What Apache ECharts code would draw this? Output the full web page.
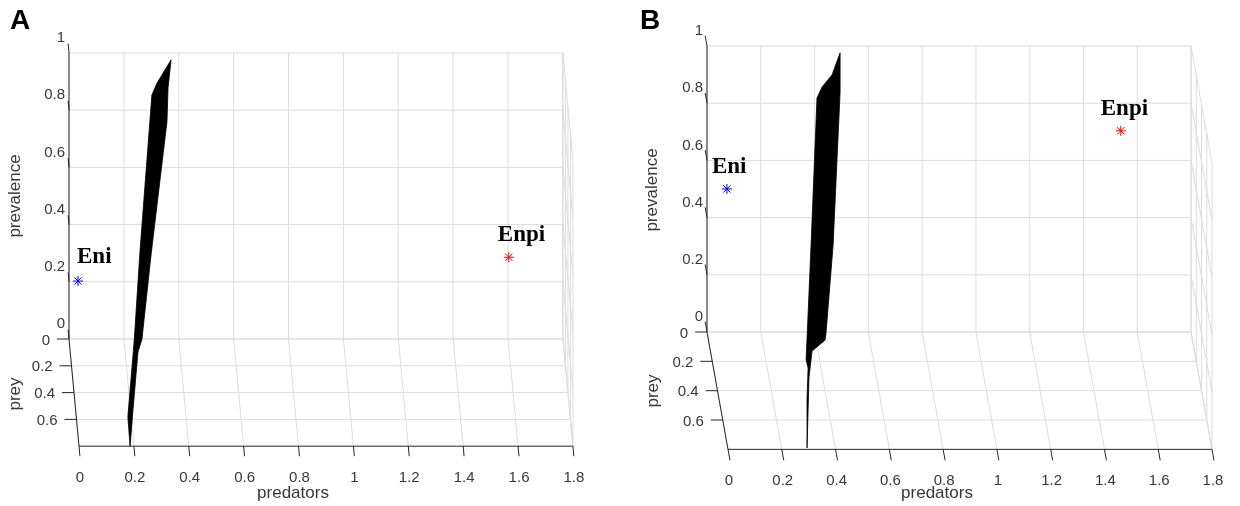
<!DOCTYPE html>
<html>
<head>
<meta charset="utf-8">
<script src="https://cdn.jsdelivr.net/npm/echarts@6/dist/echarts.min.js"></script>
<style>
  html, body { margin: 0; padding: 0; background: #fff; }
  #chart { width: 1240px; height: 506px; }
</style>
</head>
<body>
<div id="chart"></div>
<script>
// tick values / labels, same for both panels
const predTicks = [0, 0.2, 0.4, 0.6, 0.8, 1, 1.2, 1.4, 1.6, 1.8];
const predLabels = ['0', '0.2', '0.4', '0.6', '0.8', '1', '1.2', '1.4', '1.6', '1.8'];
const preyTicks = [0, 0.2, 0.4, 0.6];
const preyLabels = ['0', '0.2', '0.4', '0.6'];
const prevTicks = [0, 0.2, 0.4, 0.6, 0.8, 1];
const prevLabels = ['0', '0.2', '0.4', '0.6', '0.8', '1'];
const predMax = 1.8, preyMax = 0.8, prevMax = 1;

// outline of the black surface, [predators, prey, prevalence]
const surfaceA = [
  [0.372, 0, 0.976], [0.361, 0, 0.878], [0.357, 0, 0.759], [0.299, 0, 0.294],
  [0.266, 0, 0], [0.247, 0.097, 0], [0.209, 0.53, 0], [0.186, 0.8, 0],
  [0.188, 0.58, 0], [0.220, 0.21, 0], [0.238, 0, 0], [0.259, 0, 0.311],
  [0.302, 0, 0.853], [0.321, 0, 0.895]
];
const surfaceB = [
  [0.495, 0, 0.976], [0.495, 0, 0.839], [0.469, 0, 0.304], [0.443, 0, 0],
  [0.434, 0.055, 0], [0.378, 0.13, 0], [0.349, 0.31, 0], [0.295, 0.79, 0],
  [0.327, 0.46, 0], [0.352, 0.245, 0], [0.350, 0.19, 0], [0.373, 0, 0],
  [0.387, 0, 0.304], [0.409, 0, 0.818], [0.428, 0, 0.857], [0.465, 0, 0.899]
];

// equilibrium points, [predators, prey, prevalence]
const eqNames = ['Eni', 'Enpi'];
const eqA = [[0, 0.72, 0.54], [1.58, 0.5, 0.52]];
const eqB = [[0, 0.76, 0.89], [1.49, 0.5, 0.96]];
const eqColors = ['#0000ff', '#ff0000'];

// view of each panel: position of back wall + shear for the prey direction
const views = [
  { left: 69, top: 53, sx: 274.4, sy: 286, kx: 0.0456, ky: 0.4685,
    eqOff: [[-1, -24], [-11, -22]], surface: surfaceA, eq: eqA },
  { left: 707, top: 46, sx: 268.9, sy: 286, kx: 0.0976, ky: 0.5129,
    eqOff: [[-15, -22], [-20, -22]], surface: surfaceB, eq: eqB }
];

const GRID = '#dcdcdc';
const AXIS = '#262626';
const TXT = '#383838';
const tickFont = '15px "Liberation Sans", Arial, sans-serif';
const titleFont = '17px "Liberation Sans", Arial, sans-serif';

function projector(view, api) {
  return (pred, prey, prev) => api.coord([pred + prey * view.kx, prev - prey * view.ky]);
}

function frameRender(view) {
  return function (params, api) {
    const P = projector(view, api);
    const kids = [];
    const line = (a, b, color) => kids.push({
      type: 'line',
      shape: { x1: a[0], y1: a[1], x2: b[0], y2: b[1] },
      style: { stroke: color, lineWidth: 1 }
    });
    const label = (pt, str, align, dx, dy) => kids.push({
      type: 'text',
      style: { x: pt[0] + dx, y: pt[1] + dy, text: str, align: align, verticalAlign: 'middle',
        fill: TXT, font: tickFont }
    });

    // back wall
    predTicks.forEach(t => line(P(t, 0, 0), P(t, 0, prevMax), GRID));
    prevTicks.forEach(t => line(P(0, 0, t), P(predMax, 0, t), GRID));
    // floor
    predTicks.forEach(t => line(P(t, 0, 0), P(t, preyMax, 0), GRID));
    preyTicks.forEach(t => line(P(0, t, 0), P(predMax, t, 0), GRID));
    // side wall
    preyTicks.concat([preyMax]).forEach(t => line(P(predMax, t, 0), P(predMax, t, prevMax), GRID));
    prevTicks.forEach(t => line(P(predMax, 0, t), P(predMax, preyMax, t), GRID));

    // axis lines
    line(P(0, 0, 0), P(0, 0, prevMax), AXIS);
    line(P(0, 0, 0), P(0, preyMax, 0), AXIS);
    line(P(0, preyMax, 0), P(predMax, preyMax, 0), AXIS);

    // ticks + labels
    prevTicks.forEach((t, i) => {
      line(P(0, 0, t), P(0, -0.07, t), AXIS);
      label(P(0, 0, t), prevLabels[i], 'right', -4, -15);
    });
    preyTicks.forEach((t, i) => {
      line(P(0, t, 0), P(-0.044, t, 0), AXIS);
      label(P(0, t, 0), preyLabels[i], 'right', -19, 1.5);
    });
    predTicks.forEach((t, i) => {
      line(P(t, preyMax, 0), P(t, preyMax + 0.075, 0), AXIS);
      label(P(t, preyMax, 0), predLabels[i], 'center', 1, 32);
    });
    return { type: 'group', children: kids };
  };
}

function surfaceRender(view) {
  return function (params, api) {
    if (params.dataIndex !== 0) return null;
    const P = projector(view, api);
    return {
      type: 'polygon',
      shape: { points: view.surface.map(v => P(v[0], v[1], v[2])) },
      style: { fill: '#000', stroke: '#000', lineWidth: 0.8 }
    };
  };
}

function eqRender(view) {
  return function (params, api) {
    const P = projector(view, api);
    const c = P(api.value(0), api.value(1), api.value(2));
    const col = eqColors[params.dataIndex];
    const off = view.eqOff[params.dataIndex];
    const r = 5, d = 3.6;
    const seg = (x1, y1, x2, y2) => ({
      type: 'line', shape: { x1: c[0] + x1, y1: c[1] + y1, x2: c[0] + x2, y2: c[1] + y2 },
      style: { stroke: col, lineWidth: 1 }
    });
    return {
      type: 'group',
      children: [
        seg(-r, 0, r, 0), seg(0, -r, 0, r), seg(-d, -d, d, d), seg(-d, d, d, -d),
        {
          type: 'text',
          style: { x: c[0] + off[0], y: c[1] + off[1], text: eqNames[params.dataIndex],
            align: 'left', verticalAlign: 'middle', fill: '#000',
            font: 'bold 23px "Liberation Serif", "Times New Roman", serif' }
        }
      ]
    };
  };
}

const grids = [], xAxes = [], yAxes = [], series = [];
views.forEach((v, i) => {
  const xMax = predMax + preyMax * v.kx;
  const yMin = -preyMax * v.ky;
  grids.push({ left: v.left, top: v.top, width: v.sx * xMax, height: v.sy * (prevMax - yMin) });
  xAxes.push({ type: 'value', gridIndex: i, min: 0, max: xMax, show: false });
  yAxes.push({ type: 'value', gridIndex: i, min: yMin, max: prevMax, show: false });
  series.push({ type: 'custom', xAxisIndex: i, yAxisIndex: i, z: 1, silent: true,
    data: [[0, 0]], renderItem: frameRender(v) });
  series.push({ type: 'custom', xAxisIndex: i, yAxisIndex: i, z: 2, silent: true,
    data: v.surface, renderItem: surfaceRender(v) });
  series.push({ type: 'custom', xAxisIndex: i, yAxisIndex: i, z: 3, silent: true,
    data: v.eq, renderItem: eqRender(v) });
});

const chart = echarts.init(document.getElementById('chart'));
chart.setOption({
  animation: false,
  backgroundColor: '#fff',
  grid: grids,
  xAxis: xAxes,
  yAxis: yAxes,
  graphic: [
    { type: 'text', x: 20, y: 21, style: { text: 'A', align: 'center', verticalAlign: 'middle', fill: '#000', font: 'bold 28px "Liberation Sans", Arial, sans-serif' } },
    { type: 'text', x: 650, y: 21, style: { text: 'B', align: 'center', verticalAlign: 'middle', fill: '#000', font: 'bold 28px "Liberation Sans", Arial, sans-serif' } },
    { type: 'text', x: 293, y: 493, style: { text: 'predators', align: 'center', verticalAlign: 'middle', fill: TXT, font: titleFont } },
    { type: 'text', x: 937, y: 493, style: { text: 'predators', align: 'center', verticalAlign: 'middle', fill: TXT, font: titleFont } },
    { type: 'text', x: 15, y: 196, rotation: Math.PI / 2, style: { text: 'prevalence', align: 'center', verticalAlign: 'middle', fill: TXT, font: titleFont } },
    { type: 'text', x: 652, y: 190, rotation: Math.PI / 2, style: { text: 'prevalence', align: 'center', verticalAlign: 'middle', fill: TXT, font: titleFont } },
    { type: 'text', x: 15, y: 394, rotation: Math.PI / 2, style: { text: 'prey', align: 'center', verticalAlign: 'middle', fill: TXT, font: titleFont } },
    { type: 'text', x: 653, y: 391, rotation: Math.PI / 2, style: { text: 'prey', align: 'center', verticalAlign: 'middle', fill: TXT, font: titleFont } }
  ],
  series: series
});
</script>
</body>
</html>
